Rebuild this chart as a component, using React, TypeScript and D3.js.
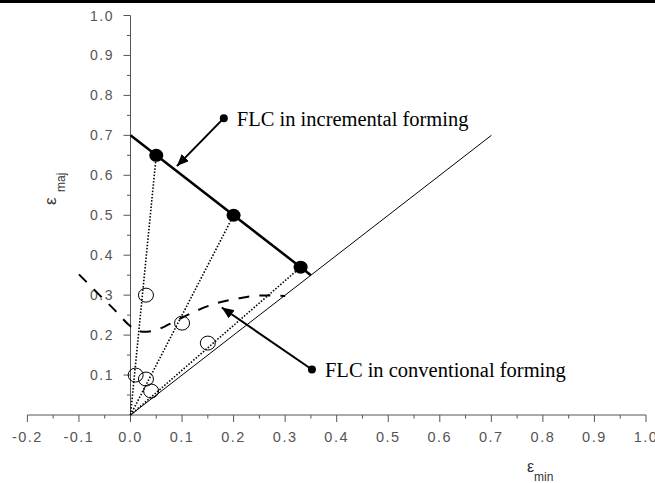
import React from "react";
import * as d3 from "d3";

const xTickValues = [-0.2, -0.1, 0.0, 0.1, 0.2, 0.3, 0.4, 0.5, 0.6, 0.7, 0.8, 0.9, 1.0];
const xTickLabels = ["-0.2", "-0.1", "0.0", "0.1", "0.2", "0.3", "0.4", "0.5", "0.6", "0.7", "0.8", "0.9", "1.0"];
const yTickValues = [0.1, 0.2, 0.3, 0.4, 0.5, 0.6, 0.7, 0.8, 0.9, 1.0];
const yTickLabels = ["0.1", "0.2", "0.3", "0.4", "0.5", "0.6", "0.7", "0.8", "0.9", "1.0"];

// y = x reference line (equi-biaxial)
const diagonalLine: [number, number][] = [[0, 0], [0.7, 0.7]];
// FLC in incremental forming (thick line)
const incrementalFLC: [number, number][] = [[0, 0.7], [0.35, 0.35]];
// measured points on incremental FLC (filled)
const incrementalPoints: [number, number][] = [[0.05, 0.65], [0.2, 0.5], [0.33, 0.37]];
// open circles (conventional)
const openPoints: [number, number][] = [
  [0.03, 0.30], [0.01, 0.10], [0.03, 0.09], [0.04, 0.06], [0.10, 0.23], [0.15, 0.18],
];
// conventional FLC (dashed)
const conventionalFLC: [number, number][] = [
  [-0.10, 0.352], [-0.06, 0.300], [-0.03, 0.262], [0.0, 0.222], [0.02, 0.209],
  [0.05, 0.213], [0.09, 0.237], [0.13, 0.262], [0.17, 0.281], [0.21, 0.292],
  [0.25, 0.299], [0.30, 0.298],
];

const annotations = [
  { label: "FLC in incremental forming", dot: [0.181, 0.743], tip: [0.090, 0.623] },
  { label: "FLC in conventional forming", dot: [0.352, 0.114], tip: [0.177, 0.269] },
];

const W = 655;
const H = 483;

export default function App() {
  const x = d3.scaleLinear().domain([-0.2, 1.0]).range([27.4, 646]);
  const y = d3.scaleLinear().domain([0, 1]).range([415, 15.5]);
  const line = d3.line<[number, number]>().x((d) => x(d[0])).y((d) => y(d[1]));
  const curve = d3
    .line<[number, number]>()
    .x((d) => x(d[0]))
    .y((d) => y(d[1]))
    .curve(d3.curveCatmullRom.alpha(0.5));

  const xMinor = d3.range(-0.15, 1.0, 0.1);
  const yMinor = d3.range(0.05, 1.0, 0.1);
  const tickFont = "'Liberation Sans', Arial, sans-serif";
  const axisColor = "#555";

  return (
    <svg
      width={W}
      height={H}
      style={{ position: "fixed", left: 0, top: 0, background: "#fff" }}
    >
      <defs>
        <marker
          id="arrow"
          viewBox="0 0 12 10"
          refX="12"
          refY="5"
          markerWidth="12"
          markerHeight="10"
          markerUnits="userSpaceOnUse"
          orient="auto"
        >
          <path d="M0,0 L12,5 L0,10 Z" fill="#000" />
        </marker>
      </defs>
      <rect x={0} y={0} width={W} height={H} fill="#fff" />
      <rect x={0} y={0} width={W} height={3} fill="#000" />

      {/* axes */}
      <line x1={x(-0.2)} x2={x(1.0)} y1={y(0)} y2={y(0)} stroke={axisColor} strokeWidth={1} />
      <line x1={x(0)} x2={x(0)} y1={y(0)} y2={y(1.0)} stroke={axisColor} strokeWidth={1} />
      {xTickValues.map((v, i) => (
        <g key={"xt" + i}>
          <line x1={x(v)} x2={x(v)} y1={y(0)} y2={y(0) + 7} stroke={axisColor} strokeWidth={1} />
          <text
            x={x(v)}
            y={442}
            textAnchor="middle"
            fontFamily={tickFont}
            fontSize={14.5}
            letterSpacing={1.5}
            fill="#555"
          >
            {xTickLabels[i]}
          </text>
        </g>
      ))}
      {xMinor.map((v, i) => (
        <line key={"xm" + i} x1={x(v)} x2={x(v)} y1={y(0)} y2={y(0) + 3.5} stroke={axisColor} strokeWidth={1} />
      ))}
      {yTickValues.map((v, i) => (
        <g key={"yt" + i}>
          <line x1={x(0) - 7} x2={x(0)} y1={y(v)} y2={y(v)} stroke={axisColor} strokeWidth={1} />
          <text
            x={114}
            y={y(v)}
            dy="0.36em"
            textAnchor="end"
            fontFamily={tickFont}
            fontSize={14}
            letterSpacing={1.5}
            fill="#555"
          >
            {yTickLabels[i]}
          </text>
        </g>
      ))}
      {yMinor.map((v, i) => (
        <line key={"ym" + i} x1={x(0) - 3.5} x2={x(0)} y1={y(v)} y2={y(v)} stroke={axisColor} strokeWidth={1} />
      ))}

      {/* axis titles */}
      <text x={527} y={472} fontFamily={tickFont} fontSize={16} fill="#333">ε</text>
      <text x={534} y={481} fontFamily={tickFont} fontSize={12} fill="#333">min</text>
      <text
        transform={`translate(56,205) rotate(-90)`}
        fontFamily={tickFont}
        fontSize={17}
        fill="#333"
      >
        ε
      </text>
      <text
        transform={`translate(65,192) rotate(-90)`}
        fontFamily={tickFont}
        fontSize={12}
        fill="#333"
      >
        maj
      </text>

      {/* diagonal */}
      <path d={line(diagonalLine) || ""} fill="none" stroke="#000" strokeWidth={1} />

      {/* strain paths */}
      {incrementalPoints.map((p, i) => (
        <path
          key={"sp" + i}
          d={line([[0, 0], p]) || ""}
          fill="none"
          stroke="#000"
          strokeWidth={1.6}
          strokeDasharray="1.5,1.7"
        />
      ))}

      {/* conventional FLC */}
      <path
        d={curve(conventionalFLC) || ""}
        fill="none"
        stroke="#000"
        strokeWidth={2}
        strokeDasharray="11,10"
      />

      {/* incremental FLC */}
      <path d={line(incrementalFLC) || ""} fill="none" stroke="#000" strokeWidth={2.5} />

      {openPoints.map((p, i) => (
        <ellipse key={"op" + i} cx={x(p[0])} cy={y(p[1])} rx={7.5} ry={7} fill="none" stroke="#000" strokeWidth={1} />
      ))}
      {incrementalPoints.map((p, i) => (
        <ellipse key={"ip" + i} cx={x(p[0])} cy={y(p[1])} rx={7} ry={6.5} fill="#000" />
      ))}

      {/* annotations */}
      {annotations.map((a, i) => (
        <g key={"an" + i}>
          <line
            x1={x(a.dot[0])}
            y1={y(a.dot[1])}
            x2={x(a.tip[0])}
            y2={y(a.tip[1])}
            stroke="#000"
            strokeWidth={2}
            markerEnd="url(#arrow)"
          />
          <circle cx={x(a.dot[0])} cy={y(a.dot[1])} r={4} fill="#000" />
          <text
            x={x(a.dot[0]) + 13}
            y={y(a.dot[1]) + 8}
            fontFamily="'Liberation Serif', 'Times New Roman', serif"
            fontSize={20.5}
            fill="#000"
          >
            {a.label}
          </text>
        </g>
      ))}
    </svg>
  );
}
